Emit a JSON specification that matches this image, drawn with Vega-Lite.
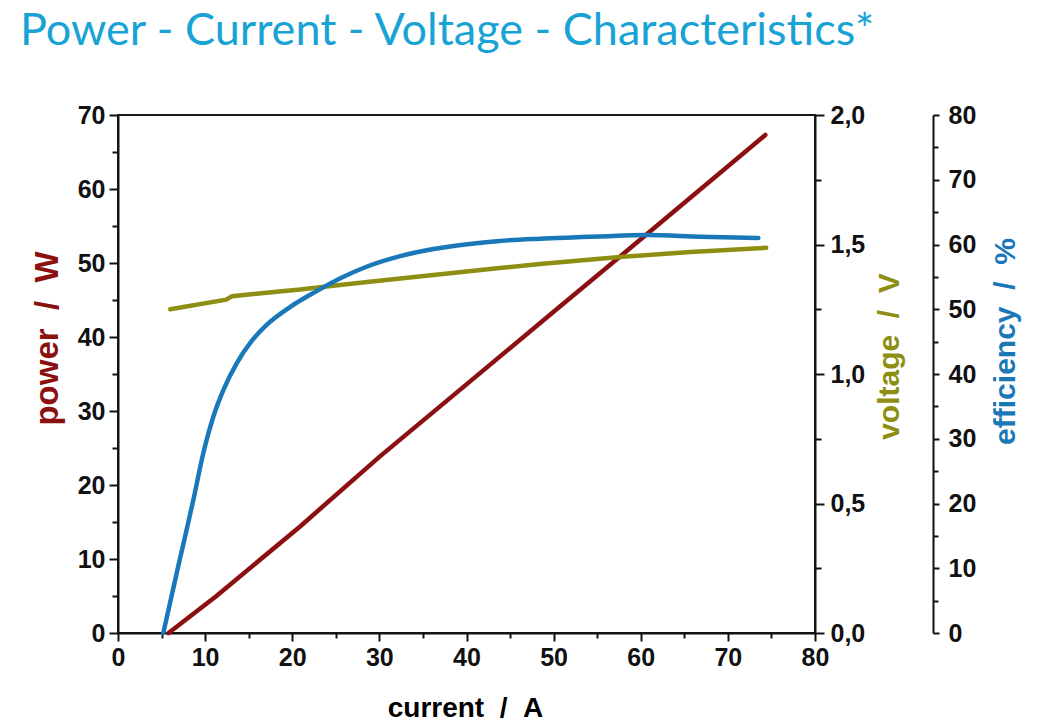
{
  "$schema": "https://vega.github.io/schema/vega-lite/v6.json",
  "width": 697,
  "height": 518,
  "autosize": {"type": "none"},
  "padding": {"left": 118, "top": 115, "right": 230, "bottom": 94},
  "background": "white",
  "title": {
    "text": "Power - Current - Voltage - Characteristics*",
    "anchor": "start",
    "frame": "group",
    "dx": -98,
    "offset": 49,
    "font": "Lato",
    "fontSize": 45,
    "fontWeight": "normal",
    "color": "#19a3d5"
  },
  "config": {
    "view": {"stroke": "#1a1a1a", "strokeWidth": 2},
    "axis": {
      "domainColor": "#111111",
      "domainWidth": 2,
      "tickColor": "#111111",
      "tickWidth": 2,
      "grid": false,
      "labelFont": "Liberation Sans",
      "labelFontWeight": "bold",
      "labelFontSize": 25,
      "labelColor": "#111111",
      "labelOverlap": false,
      "labelFlush": false,
      "labelBound": false,
      "titleFont": "Liberation Sans",
      "titleFontWeight": "bold",
      "titleFontSize": 28
    }
  },
  "datasets": {
    "power": [
      {"current": 5.8, "power": 0},
      {"current": 11.3, "power": 5.0},
      {"current": 20.9, "power": 14.4},
      {"current": 30, "power": 23.8},
      {"current": 40, "power": 33.6},
      {"current": 50, "power": 43.4},
      {"current": 60, "power": 53.2},
      {"current": 74.3, "power": 67.3}
    ],
    "voltage": [
      {"current": 6.0, "voltage": 1.250},
      {"current": 12.4, "voltage": 1.287},
      {"current": 13.1, "voltage": 1.300},
      {"current": 18.2, "voltage": 1.318},
      {"current": 20.9, "voltage": 1.326},
      {"current": 24.7, "voltage": 1.341},
      {"current": 28.6, "voltage": 1.355},
      {"current": 36.2, "voltage": 1.382},
      {"current": 43.8, "voltage": 1.409},
      {"current": 48.4, "voltage": 1.425},
      {"current": 57.6, "voltage": 1.452},
      {"current": 65.7, "voltage": 1.471},
      {"current": 74.4, "voltage": 1.487}
    ],
    "efficiency": [
      {"current": 5.2, "efficiency": 0},
      {"current": 7.0, "efficiency": 10.8},
      {"current": 8.64, "efficiency": 20.5},
      {"current": 9.79, "efficiency": 27.75},
      {"current": 10.94, "efficiency": 33.4},
      {"current": 12.09, "efficiency": 37.5},
      {"current": 13.62, "efficiency": 41.65},
      {"current": 15.35, "efficiency": 45.1},
      {"current": 17.0, "efficiency": 47.5},
      {"current": 19.7, "efficiency": 50.3},
      {"current": 22.8, "efficiency": 52.8},
      {"current": 25.7, "efficiency": 54.9},
      {"current": 28.6, "efficiency": 56.6},
      {"current": 32.4, "efficiency": 58.2},
      {"current": 36.2, "efficiency": 59.3},
      {"current": 40.1, "efficiency": 60.05},
      {"current": 43.8, "efficiency": 60.55},
      {"current": 48.4, "efficiency": 60.9},
      {"current": 55.3, "efficiency": 61.25},
      {"current": 60.7, "efficiency": 61.45},
      {"current": 66.8, "efficiency": 61.2},
      {"current": 73.5, "efficiency": 61.0}
    ]
  },
  "layer": [
    {
      "data": {"name": "power"},
      "mark": {"type": "line", "color": "#8b1010", "strokeWidth": 4.5, "strokeCap": "round"},
      "encoding": {
        "x": {
          "field": "current",
          "type": "quantitative",
          "scale": {"domain": [0, 80], "nice": false},
          "axis": {
            "title": "current\u00a0\u00a0/\u00a0\u00a0A",
            "values": [0, 5, 10, 15, 20, 25, 30, 35, 40, 45, 50, 55, 60, 65, 70, 75, 80],
            "labelExpr": "datum.value % 10 === 0 ? datum.label : ''",
            "tickSize": {"condition": {"test": "datum.value % 10 === 0", "value": 8}, "value": 5},
            "labelFontSize": 25,
            "labelPadding": 4,
            "titleX": 347,
            "titleY": 75,
            "titleBaseline": "middle",
            "titleAlign": "center"
          }
        },
        "y": {
          "field": "power",
          "type": "quantitative",
          "scale": {"domain": [0, 70], "nice": false},
          "axis": {
            "orient": "left",
            "title": "power\u00a0\u00a0/\u00a0\u00a0W",
            "values": [0, 5, 10, 15, 20, 25, 30, 35, 40, 45, 50, 55, 60, 65, 70],
            "labelExpr": "datum.value % 10 === 0 ? datum.label : ''",
            "tickSize": {"condition": {"test": "datum.value % 10 === 0", "value": 9}, "value": 6},
            "labelPadding": 4,
            "titleColor": "#8b1010",
            "titleFontSize": 33,
            "titleX": -71,
            "titleY": 223,
            "titleAngle": 270,
            "titleAlign": "center",
            "titleBaseline": "middle"
          }
        }
      }
    },
    {
      "data": {"name": "voltage"},
      "mark": {"type": "line", "color": "#8e8e12", "strokeWidth": 4.5, "strokeCap": "round"},
      "encoding": {
        "x": {"field": "current", "type": "quantitative", "scale": {"domain": [0, 80], "nice": false}},
        "y": {
          "field": "voltage",
          "type": "quantitative",
          "scale": {"domain": [0, 2], "nice": false},
          "axis": {
            "orient": "right",
            "title": "voltage\u00a0\u00a0/\u00a0\u00a0V",
            "values": [0, 0.25, 0.5, 0.75, 1, 1.25, 1.5, 1.75, 2],
            "labelExpr": "(datum.value * 2) % 1 === 0 ? replace(format(datum.value, '.1f'), '.', ',') : ''",
            "tickSize": {"condition": {"test": "(datum.value * 2) % 1 === 0", "value": 9}, "value": 6},
            "labelPadding": 6,
            "titleColor": "#8e8e12",
            "titleFontSize": 30,
            "titleX": 74,
            "titleY": 241,
            "titleAngle": 270,
            "titleAlign": "center",
            "titleBaseline": "middle"
          }
        }
      }
    },
    {
      "data": {"name": "efficiency"},
      "mark": {"type": "line", "color": "#1a78b8", "strokeWidth": 4.5, "strokeCap": "round", "interpolate": "monotone"},
      "encoding": {
        "x": {"field": "current", "type": "quantitative", "scale": {"domain": [0, 80], "nice": false}},
        "y": {
          "field": "efficiency",
          "type": "quantitative",
          "scale": {"domain": [0, 80], "nice": false},
          "axis": {
            "orient": "right",
            "offset": 118,
            "title": "efficiency\u00a0\u00a0/\u00a0\u00a0%",
            "values": [0, 5, 10, 15, 20, 25, 30, 35, 40, 45, 50, 55, 60, 65, 70, 75, 80],
            "labelExpr": "datum.value % 10 === 0 ? datum.label : ''",
            "tickSize": {"condition": {"test": "datum.value % 10 === 0", "value": 6}, "value": 5},
            "labelPadding": 9,
            "titleColor": "#1a78b8",
            "titleFontSize": 30,
            "titleX": 72,
            "titleY": 226,
            "titleAngle": 270,
            "titleAlign": "center",
            "titleBaseline": "middle"
          }
        }
      }
    }
  ],
  "resolve": {"scale": {"y": "independent"}, "axis": {"y": "independent"}}
}
